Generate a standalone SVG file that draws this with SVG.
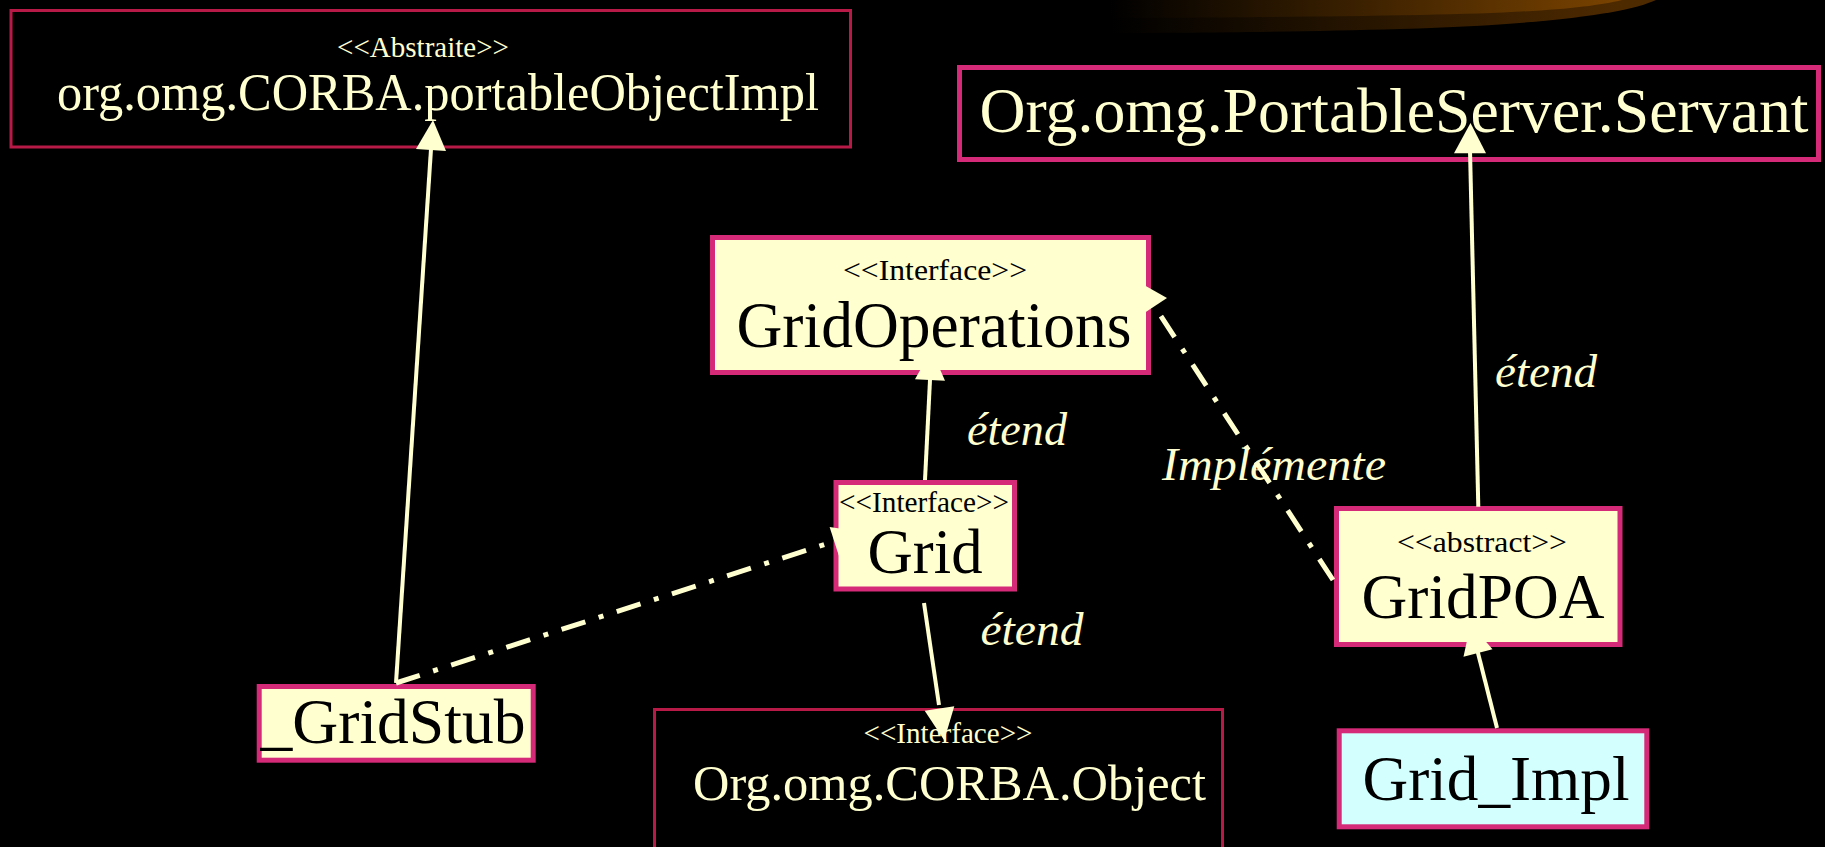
<svg xmlns="http://www.w3.org/2000/svg" width="1825" height="847" viewBox="0 0 1825 847">
<style>
.box{fill:#ffffd0;stroke:#d42a78;stroke-width:5}
.cyan{fill:#d4ffff;stroke:#d42a78;stroke-width:5}
.dark{fill:#000;stroke:#d42a78;stroke-width:5}
.thin{fill:#000;stroke:#b81a48;stroke-width:3}
text{font-family:"Liberation Serif","Times New Roman",serif;text-anchor:middle}
.st{font-size:30px}
.nm{font-size:64px}
.bk{fill:#000}
.lt{fill:#ffffd0}
.lbl{font-size:47px;font-style:italic;fill:#ffffd0}
.ln{stroke:#ffffd0;stroke-width:4;fill:none}
.dd{stroke:#ffffd0;stroke-width:5;fill:none;stroke-dasharray:25 14 5 14}
.ah{fill:#ffffd0}
</style>
<defs>
<linearGradient id="sw1" x1="1110" y1="0" x2="1620" y2="0" gradientUnits="userSpaceOnUse"><stop offset="0" stop-color="#000"/><stop offset="1" stop-color="#7a4300"/></linearGradient>
<linearGradient id="sw2" x1="1110" y1="0" x2="1620" y2="0" gradientUnits="userSpaceOnUse"><stop offset="0" stop-color="#000"/><stop offset="1" stop-color="#4e2a00"/></linearGradient>
</defs>
<rect x="0" y="0" width="1825" height="847" fill="#000"/>
<g id="decoration">
<path d="M1100,0 L1656,0 C1630,12 1560,24 1400,29 C1300,32 1180,33 1100,33 Z" fill="url(#sw2)"/>
<path d="M1100,0 L1622,0 C1590,8 1530,13 1420,15 C1300,17 1180,18 1100,18 Z" fill="url(#sw1)"/>
</g>
<g id="node-portableObjectImpl">
<rect class="thin" x="11" y="10.5" width="839.5" height="136.5"/>
<text class="st lt" x="423" y="57" textLength="172" lengthAdjust="spacingAndGlyphs">&lt;&lt;Abstraite&gt;&gt;</text>
<text class="lt" x="438" y="110" style="font-size:53px" textLength="762" lengthAdjust="spacingAndGlyphs">org.omg.CORBA.portableObjectImpl</text>
</g>
<g id="node-Servant">
<rect class="dark" x="959.5" y="67.5" width="859" height="92"/>
<text class="nm lt" x="1394" y="132" textLength="829" lengthAdjust="spacingAndGlyphs">Org.omg.PortableServer.Servant</text>
</g>
<g id="node-GridOperations">
<rect class="box" x="712.5" y="237.5" width="436" height="135"/>
<text class="st bk" x="935" y="280" textLength="184" lengthAdjust="spacingAndGlyphs">&lt;&lt;Interface&gt;&gt;</text>
<text class="nm bk" x="934" y="347" style="font-size:65px" textLength="395" lengthAdjust="spacingAndGlyphs">GridOperations</text>
</g>
<g id="node-Grid">
<rect class="box" x="836" y="482.5" width="178.5" height="106.5"/>
<text class="st bk" x="924" y="512" textLength="170" lengthAdjust="spacingAndGlyphs">&lt;&lt;Interface&gt;&gt;</text>
<text class="nm bk" x="925" y="573" textLength="115" lengthAdjust="spacingAndGlyphs">Grid</text>
</g>
<g id="node-GridPOA">
<rect class="box" x="1336.5" y="508.5" width="283.5" height="136"/>
<text class="st bk" x="1482" y="552" textLength="170" lengthAdjust="spacingAndGlyphs">&lt;&lt;abstract&gt;&gt;</text>
<text class="nm bk" x="1483" y="618" textLength="243" lengthAdjust="spacingAndGlyphs">GridPOA</text>
</g>
<g id="node-GridStub">
<rect class="box" x="259.2" y="686.5" width="274" height="73.7"/>
<text class="nm bk" x="393" y="743" textLength="265" lengthAdjust="spacingAndGlyphs">_GridStub</text>
</g>
<g id="node-Grid_Impl">
<rect class="cyan" x="1339.2" y="730.8" width="307.6" height="96"/>
<text class="nm bk" x="1496" y="800" textLength="267" lengthAdjust="spacingAndGlyphs">Grid_Impl</text>
</g>
<g id="node-CORBAObject">
<rect class="thin" x="654.5" y="709.5" width="568" height="150"/>
<text class="st lt" x="948" y="743" textLength="169" lengthAdjust="spacingAndGlyphs">&lt;&lt;Interface&gt;&gt;</text>
<text class="lt" x="949.5" y="800" style="font-size:51px" textLength="513" lengthAdjust="spacingAndGlyphs">Org.omg.CORBA.Object</text>
</g>
<g id="connectors">
<line class="ln" x1="396" y1="683" x2="431.2" y2="146"/>
<polygon class="ah" points="433,120 446,151 416,149"/>
<line class="ln" x1="925" y1="480" x2="930.2" y2="376"/>
<polygon class="ah" points="931.5,350 945,380.7 915,379.3"/>
<line class="ln" x1="924" y1="603" x2="939" y2="705"/>
<polygon class="ah" points="944.2,740.2 924.7,710.7 954.3,706.3"/>
<line class="ln" x1="1497" y1="728" x2="1477.5" y2="651"/>
<polygon class="ah" points="1470.6,623.9 1492.5,649.3 1463.5,656.7"/>
<line class="ln" x1="1478.3" y1="506.7" x2="1470" y2="150"/>
<polygon class="ah" points="1470.5,123 1486,153.3 1454,153.3"/>
<line class="dd" x1="396" y1="683" x2="834.2" y2="541.3"/>
<polygon class="ah" points="862.8,532.1 838.8,555.6 829.6,527"/>
<line class="dd" x1="1333" y1="580" x2="1154.5" y2="306.3"/>
<polygon class="ah" points="1137.8,281.4 1167,298 1142,314.6"/>
</g>
<g id="labels">
<text class="lbl" x="1017" y="445" textLength="100" lengthAdjust="spacingAndGlyphs">étend</text>
<text class="lbl" x="1032" y="645" textLength="103" lengthAdjust="spacingAndGlyphs">étend</text>
<text class="lbl" x="1546" y="387" textLength="102" lengthAdjust="spacingAndGlyphs">étend</text>
<text class="lbl" x="1274" y="480" textLength="224" lengthAdjust="spacingAndGlyphs">Implémente</text>
</g>
</svg>
